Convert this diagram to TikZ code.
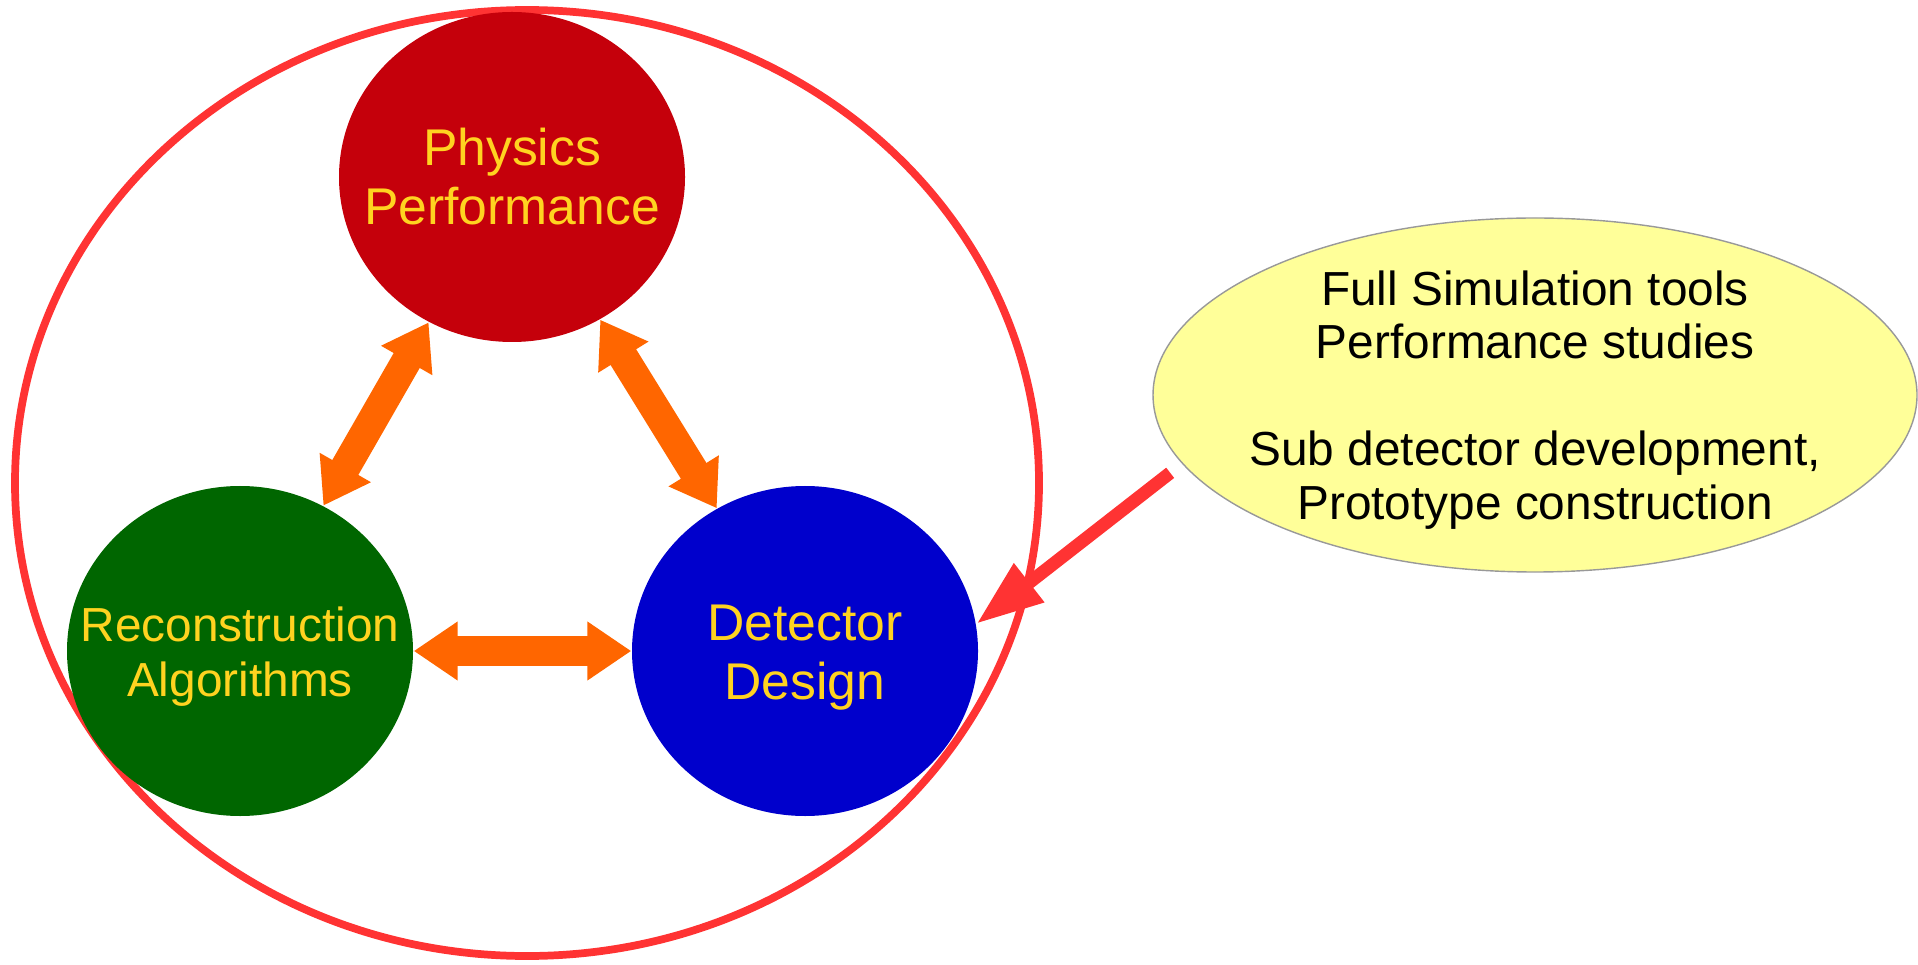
\documentclass[tikz,border=0pt]{standalone}
\usepackage{fontspec}
\setmainfont{Liberation Sans}
\usepackage{xcolor}
\usepackage{tikz}
\usetikzlibrary{shapes.geometric, arrows.meta, positioning, calc}
\definecolor{physred}{HTML}{C5000B}
\definecolor{recogreen}{HTML}{006600}
\definecolor{detblue}{HTML}{0000CC}
\definecolor{labelgold}{HTML}{FFD320}
\definecolor{ringred}{HTML}{FF3333}
\definecolor{linkorange}{HTML}{FF6600}
\definecolor{noteyellow}{HTML}{FFFF99}
\tikzset{
  topic/.style={
    ellipse, inner sep=0pt, minimum width=3.46cm,
    minimum height=3.30cm, fill=#1
  },
  caption/.style={
    text=labelgold, align=center, inner sep=0pt,
    font=\fontsize{14.7}{16.8}\selectfont
  },
  link/.style={
    {Triangle[length=4.4mm, width=5.6mm]}-{Triangle[length=4.4mm, width=5.6mm]},
    line width=3mm, linkorange
  }
}

\begin{document}
\begin{tikzpicture}[
  note/.style={ellipse, draw=gray!80, fill=noteyellow, inner sep=0pt,
               minimum width=7.64cm, minimum height=3.54cm},
  notetext/.style={align=center, inner sep=0pt,
               font=\fontsize{13.6}{15.2}\selectfont}]
  \useasboundingbox (0,0) rectangle (19.18,9.64);

  % the big ring round the three topics
  \node[ellipse, draw=ringred, line width=2.2pt, inner sep=0pt,
        minimum width=10.24cm, minimum height=9.46cm] (ring) at (5.27,4.81) {};

  \node[topic=physred, label={[caption]center:{Physics\\Performance}}]
    (phys) at (5.12,7.87) {};
  \node[topic=recogreen, label={[caption, yshift=-0.06cm,
    font=\fontsize{13.6}{15.6}\selectfont]center:{Reconstruction\\Algorithms}}]
    (reco) at (2.40,3.13) {};
  \node[topic=detblue, label={[caption, yshift=-0.07cm]center:{Detector\\Design}}]
    (det) at (8.05,3.13) {};

  \node[note, label={[notetext, yshift=-0.05cm]center:{Full Simulation tools\\Performance studies\\[15.2pt]
     Sub detector development,\\Prototype construction}}] (tools) at (15.35,5.69) {};

  \foreach \f/\t in {reco/phys,phys/det,reco/det}
    \draw[link] (\f) -- (\t);
  \draw[-{Triangle[length=6.7mm, width=4.6mm]}, line width=1.3mm, ringred,
        shorten <=1.5mm] (tools.191) -- (det.9);
\end{tikzpicture}
\end{document}
